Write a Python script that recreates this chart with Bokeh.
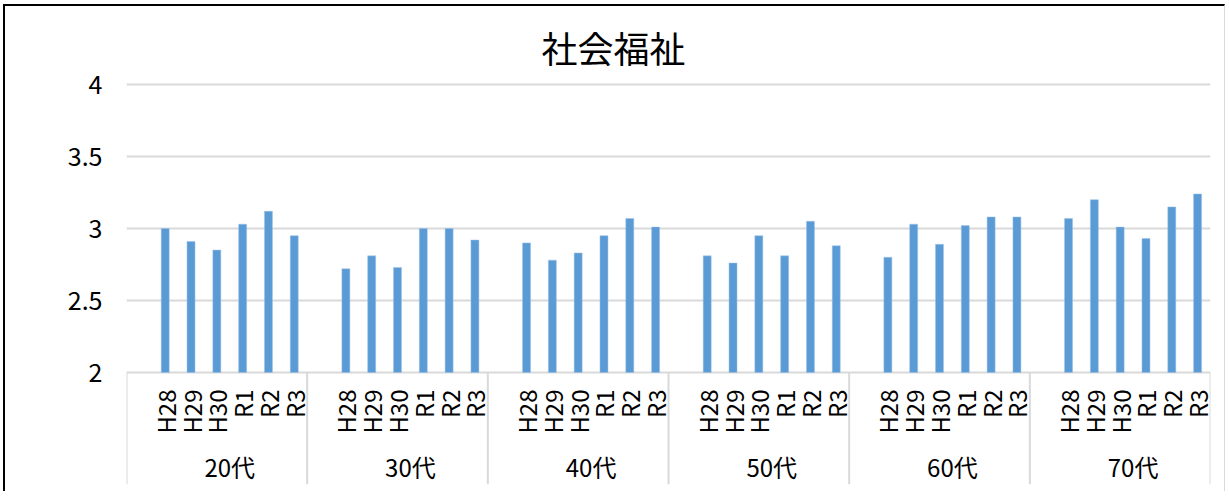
from bokeh.plotting import figure
from bokeh.models import Range1d, FixedTicker, CustomJSTickFormatter, ColumnDataSource
from bokeh.core.properties import value
from bokeh.embed import file_html
from bokeh.resources import INLINE
import math

# ---------------- data ----------------
title_text = "社会福祉"
groups = ["20代", "30代", "40代", "50代", "60代", "70代"]
years = ["H28", "H29", "H30", "R1", "R2", "R3"]
v_20 = [3.00, 2.91, 2.85, 3.03, 3.12, 2.95]
v_30 = [2.72, 2.81, 2.73, 3.00, 3.00, 2.92]
v_40 = [2.90, 2.78, 2.83, 2.95, 3.07, 3.01]
v_50 = [2.81, 2.76, 2.95, 2.81, 3.05, 2.88]
v_60 = [2.80, 3.03, 2.89, 3.02, 3.08, 3.08]
v_70 = [3.07, 3.20, 3.01, 2.93, 3.15, 3.24]
series = [v_20, v_30, v_40, v_50, v_60, v_70]
y_ticks = [2, 2.5, 3, 3.5, 4]

# ---------------- layout ----------------
FONT = "Noto Sans CJK JP"
BAR_COLOR = "#5b9bd5"
GRID_COLOR = "#d9d9d9"
slots = len(years) + 1          # one empty slot before each group's bars
y_min, y_max = y_ticks[0], y_ticks[-1]
px_per_unit = 144.0
below_px = 112.0                # height of the label band under the axis
top_pad_px = 3.0
y_bottom = y_min - below_px / px_per_unit
y_top = y_max + top_pad_px / px_per_unit

bar_x, bar_top, lab_t = [], [], []
for gi, vals in enumerate(series):
    for yi, v in enumerate(vals):
        bar_x.append(gi * slots + 1 + yi + 0.5)
        bar_top.append(v)
        lab_t.append(years[yi])

grp_x = [gi * slots + slots / 2 + 0.5 for gi in range(len(groups))]
sep_x = [gi * slots for gi in range(len(groups) + 1)]

p = figure(
    width=1222, height=487,
    x_range=Range1d(0, len(groups) * slots),
    y_range=Range1d(y_bottom, y_top),
    output_backend="svg", toolbar_location=None,
    min_border_left=121, min_border_right=17,
    min_border_top=75, min_border_bottom=9,
    x_axis_location=None,
)
p.styles = {"border-left": "2px solid black", "border-top": "2px solid black",
            "border-right": "1px solid #d9d9d9",
            "margin-left": "3px", "margin-top": "4px"}
p.outline_line_color = None
p.background_fill_color = "white"
p.border_fill_color = "white"

# title
p.title.text = title_text
p.title.align = "left"
p.title.offset = 415
p.title.text_font = FONT
p.title.text_font_size = "36px"
p.title.text_font_style = "normal"
p.title.text_color = "black"
p.title.standoff = 17

# y axis
p.yaxis.ticker = FixedTicker(ticks=y_ticks)
p.yaxis.formatter = CustomJSTickFormatter(code="return tick.toString();")
p.yaxis.axis_line_color = None
p.yaxis.major_tick_line_color = None
p.yaxis.minor_tick_line_color = None
p.yaxis.major_tick_out = 0
p.yaxis.major_tick_in = 0
p.yaxis.major_label_standoff = 24
p.yaxis.major_label_text_align = "right"
p.yaxis.major_label_text_font = FONT
p.yaxis.major_label_text_font_size = "25px"
p.yaxis.major_label_text_color = "black"

p.xgrid.visible = False
p.ygrid.ticker = FixedTicker(ticks=y_ticks)
p.ygrid.grid_line_color = GRID_COLOR
p.ygrid.grid_line_width = 2

# group separators below the axis
p.segment(x0=sep_x, x1=sep_x, y0=[y_min] * len(sep_x), y1=[y_bottom] * len(sep_x),
          line_color=GRID_COLOR, line_width=2)

# bars
src = ColumnDataSource(dict(x=bar_x, top=bar_top, lab=lab_t))
p.vbar(x="x", top="top", bottom=y_min, width=0.31, source=src,
       fill_color=BAR_COLOR, line_color="#9dc3e6", line_width=0.5)

# year labels (rotated)
p.text(x="x", y=y_min, text="lab", source=src, angle=math.pi / 2,
       y_offset=17, text_align="right", text_baseline="middle",
       text_font=value(FONT), text_font_size="24px", text_color="black")

# group labels
p.text(x=grp_x, y=[y_min] * len(groups), text=groups, y_offset=94,
       text_align="center", text_baseline="middle",
       text_font=value(FONT), text_font_size="24px", text_color="black")

open("out.html", "w").write(file_html(p, INLINE))
